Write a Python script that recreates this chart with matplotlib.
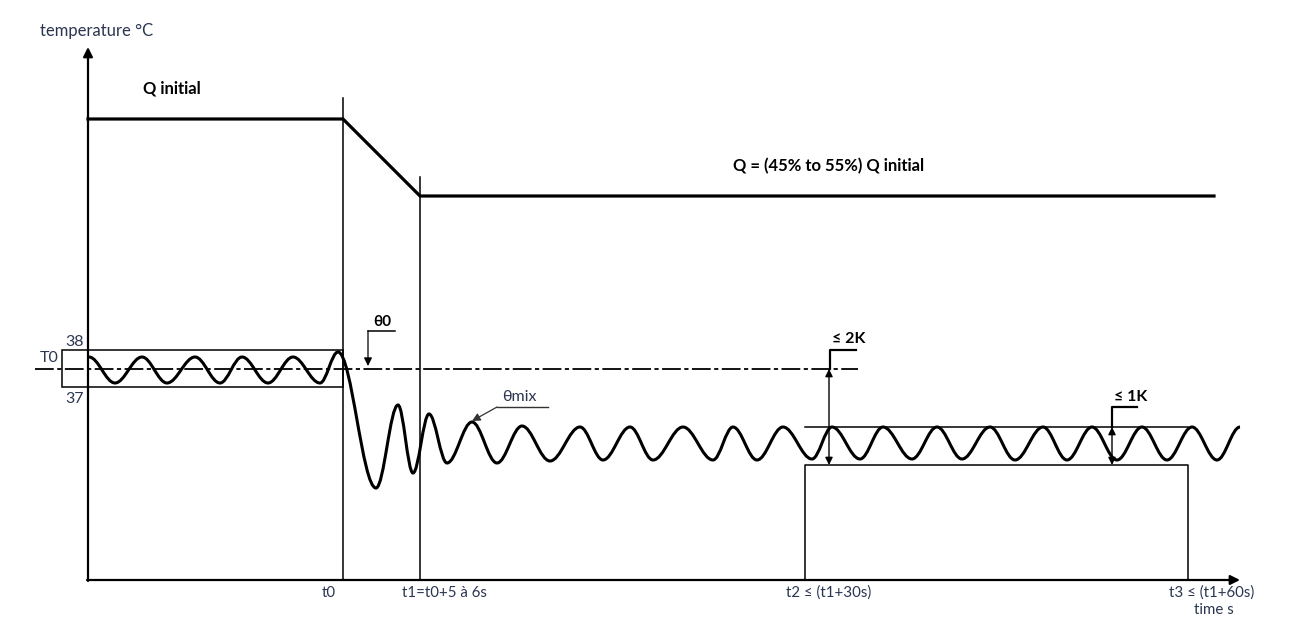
import matplotlib
matplotlib.use("Agg")
import matplotlib.pyplot as plt
from matplotlib.path import Path
from matplotlib.patches import PathPatch, Rectangle, FancyArrowPatch

plt.rcParams['font.family'] = ['Lato', 'DejaVu Sans']
plt.rcParams['lines.scale_dashes'] = False

# ---- schematic data (time axis units, temperature axis units; y grows downward) ----
t_axis = 88          # origin of time axis
t0 = 343
t1 = 420
t2 = 805
t3 = 1188
t_end = 1240         # arrow tip of time axis
temp_base = 580      # time axis level
temp_top = 47        # arrow tip of temperature axis

q_initial = 119
q_reduced = 196
q_end = 1214

band_hi = 350        # 38 °C
band_lo = 387        # 37 °C
band_left = 62
T0_level = 369
T0_line_start = 35
T0_line_end = 858

steady_hi = 427
steady_lo = 465

# extrema of the mixed temperature curve θmix
wave_t = [89, 115, 142, 167, 195, 220, 242, 268, 293, 320, 338,
          376, 398, 413, 429, 447, 472, 497, 522, 550, 580, 603, 630, 653,
          683, 713, 733, 757, 783, 812, 832, 860, 883, 912, 937, 962, 990,
          1015, 1043, 1067, 1092, 1117, 1142, 1167, 1192, 1217, 1240]
wave_T = [357, 383, 357, 383, 357, 383, 357, 383, 357, 383, 352,
          488, 405, 473, 414, 463, 422, 463, 426, 461, 427, 460, 427, 460,
          427, 460, 427, 460, 427, 459, 427, 459, 427, 459, 427, 459, 427,
          460, 427, 460, 427, 460, 427, 460, 427, 460, 427]

tick_pos = [329, 444, 829, 1212]
tick_labels = ["t0", "t1=t0+5 à 6s", "t2 ≤ (t1+30s)", "t3 ≤ (t1+60s)"]

TXT = '#2a3550'
K = 'black'

fig = plt.figure(figsize=(12.93, 6.22), dpi=100)
ax = fig.add_axes([0, 0, 1, 1])
ax.set_xlim(0, 1293)
ax.set_ylim(622, 0)
ax.axis('off')

# axes with arrows
ax.annotate('', xy=(t_axis, temp_top), xytext=(t_axis, temp_base + 1),
            arrowprops=dict(arrowstyle='-|>', lw=1.6, color=K, mutation_scale=14,
                            shrinkA=0, shrinkB=0))
ax.annotate('', xy=(t_end, temp_base), xytext=(t_axis - 1, temp_base),
            arrowprops=dict(arrowstyle='-|>', lw=1.6, color=K, mutation_scale=14,
                            shrinkA=0, shrinkB=0))

# flow rate curve
ax.plot([t_axis, t0, t1, q_end], [q_initial, q_initial, q_reduced, q_reduced],
        color=K, lw=2.3, solid_joinstyle='miter')

# vertical time markers
ax.plot([t0, t0], [98, temp_base], color=K, lw=1.1)
ax.plot([t1, t1], [177, temp_base], color=K, lw=1.1)

# initial band box
ax.add_patch(Rectangle((band_left, band_hi), t0 - band_left, band_lo - band_hi,
                       fill=False, ec=K, lw=1.1))
# T0 dash-dot line
ax.plot([T0_line_start, T0_line_end], [T0_level, T0_level], color=K, lw=1.3,
        dashes=(13.5, 2.5, 3, 2.5))

# steady band
ax.plot([t2, t3], [steady_hi, steady_hi], color=K, lw=1.1)
ax.plot([t2, t2, t3, t3], [temp_base, steady_lo, steady_lo, temp_base], color=K, lw=1.1)

# θmix curve as cubic Bezier between extrema
k = 0.36
verts = [(wave_t[0], wave_T[0])]
codes = [Path.MOVETO]
for i in range(len(wave_t) - 1):
    x0, y0 = wave_t[i], wave_T[i]
    x1, y1 = wave_t[i + 1], wave_T[i + 1]
    dx = x1 - x0
    verts += [(x0 + k * dx, y0), (x1 - k * dx, y1), (x1, y1)]
    codes += [Path.CURVE4] * 3
ax.add_patch(PathPatch(Path(verts, codes), fill=False, ec=K, lw=2.2))

# double arrows
for xa, ya, yb in [(829, T0_level, steady_lo), (1112, steady_hi, steady_lo)]:
    ax.add_patch(FancyArrowPatch((xa, ya), (xa, yb), arrowstyle='<|-|>',
                                 mutation_scale=11, lw=1.0, color=K,
                                 shrinkA=0, shrinkB=0))

# leaders
ax.plot([830, 830, 856], [T0_level, 350, 350], color=K, lw=1.6)
ax.plot([1112, 1112, 1137], [steady_hi, 407, 407], color=K, lw=1.6)
ax.plot([368, 395], [331, 331], color=K, lw=1.1)
ax.annotate('', xy=(368, 366), xytext=(368, 331),
            arrowprops=dict(arrowstyle='-|>', lw=0.9, color=K, mutation_scale=12,
                            shrinkA=0, shrinkB=0))
ax.plot([497, 548], [407, 407], color='#333333', lw=1.0)
ax.annotate('', xy=(472, 421), xytext=(497, 407),
            arrowprops=dict(arrowstyle='-|>', lw=0.9, color='#333333', mutation_scale=12,
                            shrinkA=0, shrinkB=0))

# texts
ax.text(97, 31, "temperature °C", ha='center', va='center', fontsize=12, color=TXT)
ax.text(172, 89, "Q initial", ha='center', va='center', fontsize=12, fontweight='bold', color=K)
ax.text(829, 166, "Q = (45% to 55%) Q initial", ha='center', va='center', fontsize=12,
        fontweight='bold', color=K)
ax.text(75, 342, "38", ha='center', va='center', fontsize=11.5, color=TXT)
ax.text(75, 399, "37", ha='center', va='center', fontsize=11.5, color=TXT)
ax.text(49, 358, "T0", ha='center', va='center', fontsize=11.5, color=TXT)
ax.text(382, 322, "θ0", ha='center', va='center', fontsize=11, fontweight='bold', color=K)
ax.text(519, 397, "θmix", ha='center', va='center', fontsize=11.5, color=TXT)
ax.text(849, 339, "≤ 2K", ha='center', va='center', fontsize=11.5, fontweight='bold', color=K)
ax.text(1131, 397, "≤ 1K", ha='center', va='center', fontsize=11.5, fontweight='bold', color=K)
for xp, lab in zip(tick_pos, tick_labels):
    ax.text(xp, 593, lab, ha='center', va='center', fontsize=10.8, color=TXT)
ax.text(1214, 610, "time s", ha='center', va='center', fontsize=10.8, color=TXT)

fig.savefig("out.png", dpi=100)
